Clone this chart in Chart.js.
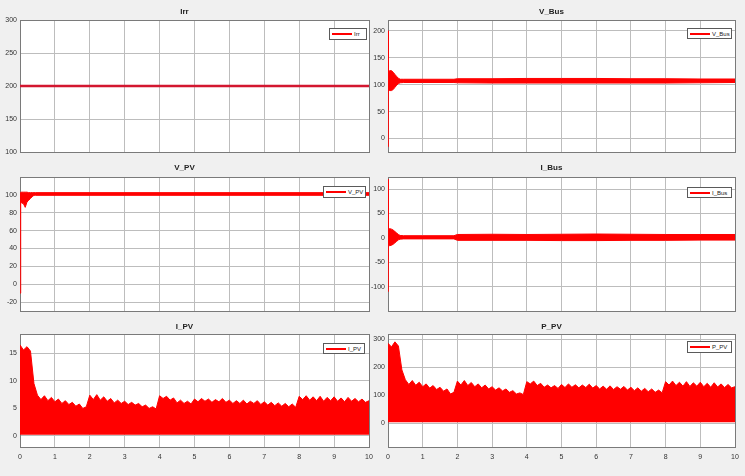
<!DOCTYPE html>
<html><head><meta charset="utf-8">
<script src="https://cdn.jsdelivr.net/npm/chart.js@4.4.0/dist/chart.umd.min.js"></script>
<style>
html,body{margin:0;padding:0;background:#f0f0f0;}
body{width:745px;height:476px;position:relative;overflow:hidden;font-family:"Liberation Sans",Arial,sans-serif;}
canvas.p{position:absolute;}
.lg{position:absolute;background:#fff;border:1px solid #5a5a5a;display:flex;align-items:center;box-sizing:border-box;padding:0 2px;font-size:6px;color:#222;white-space:nowrap;}
.lg i{display:inline-block;width:20px;height:2px;background:#f00;margin-right:2px;flex:none;}
</style></head><body>
<canvas class="p" id="c1" width="378" height="155" style="left:0;top:0"></canvas>
<canvas class="p" id="c2" width="377" height="155" style="left:368px;top:0"></canvas>
<canvas class="p" id="c3" width="378" height="159" style="left:0;top:155px"></canvas>
<canvas class="p" id="c4" width="377" height="159" style="left:368px;top:155px"></canvas>
<canvas class="p" id="c5" width="378" height="162" style="left:0;top:314px"></canvas>
<canvas class="p" id="c6" width="377" height="162" style="left:368px;top:314px"></canvas>
<div class="lg" style="left:329px;top:28px;width:38px;height:12px"><i></i>Irr</div>
<div class="lg" style="left:687px;top:28px;width:45px;height:11px"><i></i>V_Bus</div>
<div class="lg" style="left:323px;top:186px;width:43px;height:12px"><i></i>V_PV</div>
<div class="lg" style="left:687px;top:187px;width:45px;height:11px"><i></i>I_Bus</div>
<div class="lg" style="left:323px;top:343px;width:42px;height:11px"><i></i>I_PV</div>
<div class="lg" style="left:687px;top:341px;width:45px;height:12px"><i></i>P_PV</div>
<script>
// ---- tick labels ----
const xTicks = [0,1,2,3,4,5,6,7,8,9,10];
const irrTicks = [100,150,200,250,300];
const vBusTicks = [0,50,100,150,200];
const vPvTicks = [-20,0,20,40,60,80,100];
const iBusTicks = [-100,-50,0,50,100];
const iPvTicks = [0,5,10,15];
const pPvTicks = [0,100,200,300];

// ---- Irr ----
const tIrr = [0,10];
const irr = [200,200];

// ---- V_Bus (band: upper / lower envelope) ----
const tVBus = [0,0.01,0.05,0.1,0.15,0.2,0.25,0.3,0.35,0.45,1,1.9,2,3,4,5,6,7,8,9,10];
const vBusHi = [200,124,126,126,123,119,115,112,110,110,110,110,111,111,111.5,111.5,111.5,111,111,110.5,110.5];
const vBusLo = [-15,90,89,89,91,95,99,102,103.5,104,104,104,103.5,103,103,103,103,103,103,103.5,104];

// ---- V_PV ----
const tVPv = [0,0.02,0.05,0.1,0.15,0.2,0.25,0.3,0.35,0.4,0.45,10];
const vPvHi = [102,103,103,103,103,103,102.5,102.5,102.5,102.5,102.5,102.5];
const vPvLo = [-10,92,91,90,86,92,94,96,98,99.5,99.5,99.5];

// ---- I_Bus ----
const tIBus = [0,0.01,0.05,0.1,0.15,0.2,0.25,0.3,0.35,0.45,1,1.9,2,3,4,5,6,7,8,9,10];
const iBusHi = [120,19,19,18,16,13,10,7,5,4.5,4.5,4.5,7,7.5,7,7.5,8,7.5,7,7,7];
const iBusLo = [-110,-15,-16,-15,-13,-10,-7,-4,-2.5,-2,-2,-2,-5,-5,-5,-5.5,-5.5,-5,-5,-4.5,-4.5];

// ---- I_PV / P_PV (upper envelope of the ripple, lower edge constant) ----
const tPv = [0,0.1,0.2,0.3,0.4,0.5,0.6,0.7,0.8,0.9,1,1.1,1.2,1.3,1.4,1.5,1.6,1.7,1.8,1.9,
 2,2.1,2.2,2.3,2.4,2.5,2.6,2.7,2.8,2.9,3,3.1,3.2,3.3,3.4,3.5,3.6,3.7,3.8,3.9,
 4,4.1,4.2,4.3,4.4,4.5,4.6,4.7,4.8,4.9,5,5.1,5.2,5.3,5.4,5.5,5.6,5.7,5.8,5.9,
 6,6.1,6.2,6.3,6.4,6.5,6.6,6.7,6.8,6.9,7,7.1,7.2,7.3,7.4,7.5,7.6,7.7,7.8,7.9,
 8,8.1,8.2,8.3,8.4,8.5,8.6,8.7,8.8,8.9,9,9.1,9.2,9.3,9.4,9.5,9.6,9.7,9.8,9.9,10];
const iPv = [16.5,15.6,16.2,15.4,9.5,7.4,6.6,7.3,6.4,7.0,6.2,6.7,5.9,6.4,5.7,6.1,5.4,5.8,5.0,5.3,
 7.4,6.6,7.5,6.5,7.1,6.3,6.8,6.0,6.5,5.9,6.3,5.7,6.1,5.6,5.9,5.3,5.6,5.0,5.3,4.9,
 7.3,6.8,7.2,6.5,6.9,6.0,6.5,5.9,6.3,5.8,6.7,6.2,6.8,6.3,6.7,6.1,6.6,6.2,6.8,6.1,
 6.5,5.9,6.4,5.9,6.5,5.8,6.3,5.9,6.4,5.7,6.2,5.6,6.1,5.5,6.0,5.4,5.9,5.3,5.8,5.2,
 7.2,6.6,7.3,6.5,7.1,6.4,7.2,6.3,7.0,6.4,7.1,6.3,6.9,6.2,7.0,6.3,6.8,6.2,6.7,6.1,6.4];
const iPvLow = 0.2;
const pPv = [285,272,290,275,190,155,138,152,135,146,130,140,125,134,120,128,114,122,104,110,
 150,136,152,134,145,130,140,126,136,122,130,118,126,115,122,110,116,104,108,102,
 148,140,150,134,142,128,136,126,134,124,138,127,140,128,137,126,136,127,139,125,
 134,122,132,121,133,120,130,121,131,118,128,116,126,114,124,112,122,110,118,108,
 148,136,150,134,146,132,148,131,144,132,146,130,142,128,144,129,140,127,138,126,130];
const pPvLow = 3;

const RED = '#ff0000';
const pts = (t, v) => t.map((x, i) => ({x: x, y: v[i]}));

const areaBg = {id:'areaBg', beforeDraw(c){const a=c.chartArea, g=c.ctx; g.save(); g.fillStyle='#ffffff'; g.fillRect(a.left,a.top,a.right-a.left,a.bottom-a.top); g.restore();}};

function make(id, title, datasets, yMin, yMax, yTicks, opt) {
  const showX = !!opt.showX;
  return new Chart(document.getElementById(id), {
    type: 'line',
    data: {datasets: datasets},
    plugins: [areaBg],
    options: {
      responsive: false, animation: false, devicePixelRatio: 1,
      layout: {padding: {left: 0, right: opt.padR, top: 0, bottom: 0}},
      elements: {point: {radius: 0}, line: {tension: 0}},
      plugins: {
        legend: {display: false}, tooltip: {enabled: false},
        title: {display: true, text: title, color: '#222',
          font: {family: 'Liberation Sans', size: 8, lineHeight: 1},
          padding: {top: opt.tTop, bottom: opt.tBot}}
      },
      scales: {
        x: {type: 'linear', min: 0, max: 10, position: 'bottom',
          afterBuildTicks: s => { s.ticks = xTicks.map(v => ({value: v})); },
          afterFit: s => { s.height = showX ? 29 : 3; s.paddingLeft = 0; s.paddingRight = 0; },
          grid: {color: '#bdbdbd', lineWidth: 1, drawTicks: false},
          border: {color: '#7a7a7a', width: 1},
          ticks: {display: showX, padding: 6, color: '#333', maxRotation: 0,
            font: {family: 'Liberation Sans', size: 7}}},
        xTop: {type: 'linear', min: 0, max: 10, position: 'top',
          afterFit: s => { s.height = 0; s.paddingLeft = 0; s.paddingRight = 0; },
          grid: {display: false, drawTicks: false}, ticks: {display: false},
          border: {color: '#7a7a7a', width: 1}},
        y: {type: 'linear', min: yMin, max: yMax, position: 'left',
          afterBuildTicks: s => { s.ticks = yTicks.map(v => ({value: v})); },
          afterFit: s => { s.width = 20; s.paddingTop = 0; s.paddingBottom = 0; },
          grid: {color: '#bdbdbd', lineWidth: 1, drawTicks: false},
          border: {color: '#7a7a7a', width: 1},
          ticks: {padding: 3, color: '#333', font: {family: 'Liberation Sans', size: 7}}},
        yRight: {type: 'linear', min: yMin, max: yMax, position: 'right',
          afterFit: s => { s.width = 0; s.paddingTop = 0; s.paddingBottom = 0; },
          grid: {display: false, drawTicks: false}, ticks: {display: false},
          border: {color: '#7a7a7a', width: 1}}
      }
    }
  });
}

function band(t, hi, lo, label) {
  return [
    {label: label, data: pts(t, hi), borderColor: RED, backgroundColor: RED, borderWidth: 1, fill: '+1'},
    {label: label + ' min', data: pts(t, lo), borderColor: RED, backgroundColor: RED, borderWidth: 1, fill: false}
  ];
}

make('c1', 'Irr', [{label: 'Irr', data: pts(tIrr, irr), borderColor: '#d3162f', borderWidth: 2.5, fill: false}],
  100, 300, irrTicks, {tTop: 8, tBot: 4, padR: 9});
make('c2', 'V_Bus', band(tVBus, vBusHi, vBusLo, 'V_Bus'), -25, 220, vBusTicks, {tTop: 8, tBot: 4, padR: 10});
make('c3', 'V_PV', band(tVPv, vPvHi, vPvLo, 'V_PV'), -30, 120, vPvTicks, {tTop: 9, tBot: 5, padR: 9});
make('c4', 'I_Bus', band(tIBus, iBusHi, iBusLo, 'I_Bus'), -150, 125, iBusTicks, {tTop: 9, tBot: 5, padR: 10});
make('c5', 'I_PV', [{label: 'I_PV', data: pts(tPv, iPv), borderColor: RED, backgroundColor: RED, borderWidth: 1, fill: {value: iPvLow}}],
  -2, 18.5, iPvTicks, {tTop: 9, tBot: 3, showX: true, padR: 9});
make('c6', 'P_PV', [{label: 'P_PV', data: pts(tPv, pPv), borderColor: RED, backgroundColor: RED, borderWidth: 1, fill: {value: pPvLow}}],
  -85, 318, pPvTicks, {tTop: 9, tBot: 3, showX: true, padR: 10});
</script>
</body></html>
